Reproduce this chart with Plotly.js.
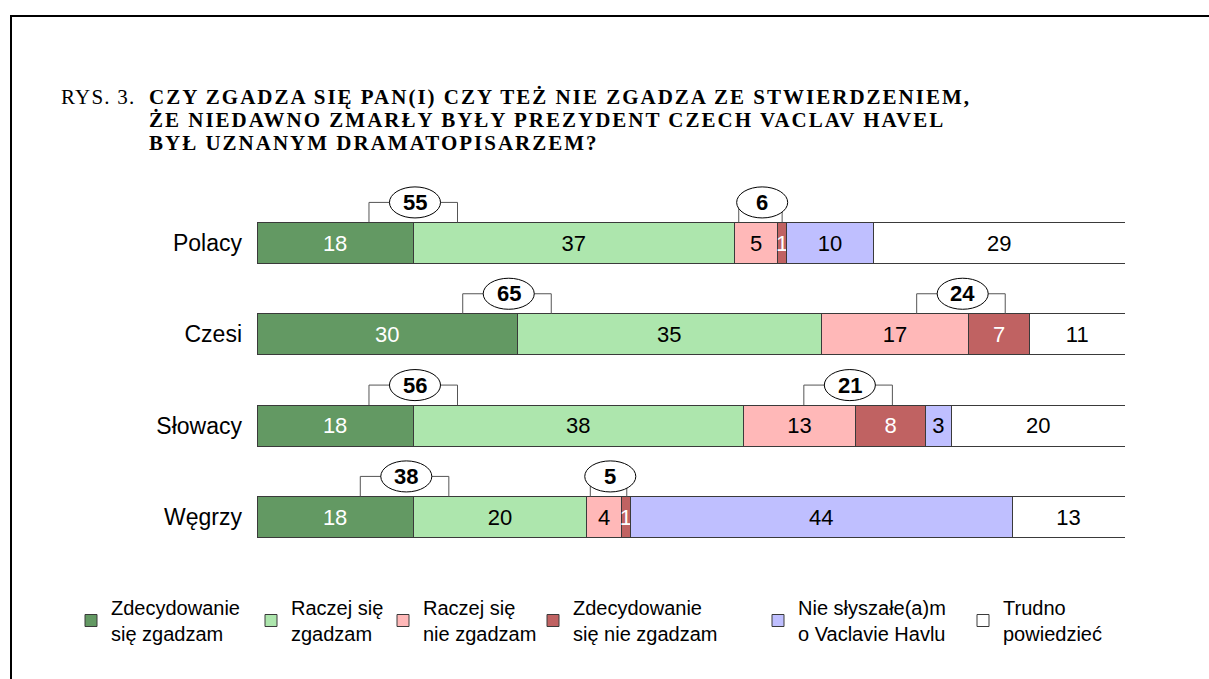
<!DOCTYPE html>
<html>
<head>
<meta charset="utf-8">
<script src="https://cdn.plot.ly/plotly-3.0.1.min.js"></script>
<style>html,body{margin:0;padding:0;background:#fff;}#chart{width:1209px;height:679px;}</style>
</head>
<body>
<div id="chart"></div>
<script>
// ---- data ----
const categories = ["Polacy", "Czesi", "Słowacy", "Węgrzy"];
const seriesNames = [
  "Zdecydowanie<br>się zgadzam",
  "Raczej się<br>zgadzam",
  "Raczej się<br>nie zgadzam",
  "Zdecydowanie<br>się nie zgadzam",
  "Nie słyszałe(a)m<br>o Vaclavie Havlu",
  "Trudno<br>powiedzieć"
];
const zdecydowanieZgadzam   = [18, 30, 18, 18];
const raczejZgadzam         = [37, 35, 38, 20];
const raczejNieZgadzam      = [5, 17, 13, 4];
const zdecydowanieNieZgadzam= [1, 7, 8, 1];
const nieSlyszal            = [10, 0, 3, 44];
const trudnoPowiedziec      = [29, 11, 20, 13];
const titleLines = [
  "CZY ZGADZA SIĘ PAN(I) CZY TEŻ NIE ZGADZA ZE STWIERDZENIEM,",
  "ŻE NIEDAWNO ZMARŁY BYŁY PREZYDENT CZECH VACLAV HAVEL",
  "BYŁ UZNANYM DRAMATOPISARZEM?"
];
const figLabel = "RYS. 3.";
const unitLabel = "(%)";

// ---- styles / placement ----
const series = [zdecydowanieZgadzam, raczejZgadzam, raczejNieZgadzam, zdecydowanieNieZgadzam, nieSlyszal, trudnoPowiedziec];
const colors = ["#639963", "#ade6ad", "#ffb8b8", "#c06262", "#bfbfff", "#ffffff"];
const textColors = ["#ffffff", "#000000", "#000000", "#ffffff", "#000000", "#000000"];
const SANS = "Liberation Sans, Arial, sans-serif";
const SERIF = "Liberation Serif, Times New Roman, serif";

const W = 1209, H = 679;
const M = {l: 257, r: 84, t: 170, b: 98};
const PW = W - M.l - M.r, PH = H - M.t - M.b;
const px = p => (p - M.l) / PW;
const py = p => (H - M.b - p) / PH;

// legend left positions (pixels)
const legendX = [71, 251, 383, 533, 758, 963];

const traces = series.map((vals, k) => ({
  type: "bar",
  orientation: "h",
  name: seriesNames[k],
  y: categories,
  x: vals,
  text: vals.map(v => v ? String(v) : ""),
  textposition: "inside",
  insidetextanchor: "middle",
  constraintext: "none",
  textangle: 0,
  textfont: {family: SANS, size: 22, color: textColors[k]},
  marker: {color: colors[k], line: {color: "#3a3a3a", width: 1}},
  hoverinfo: "skip",
  legend: k === 0 ? "legend" : "legend" + (k + 1),
  showlegend: true
}));

// brackets: placement per category (center %, half-width %)
const bracketPlacement = [
  [{c: 18.0, hw: 5.1}, {c: 58.0, hw: 2.5}],
  [{c: 28.8, hw: 5.1}, {c: 81.1, hw: 5.1}],
  [{c: 18.0, hw: 5.1}, {c: 68.1, hw: 5.1}],
  [{c: 17.0, hw: 5.1}, {c: 40.5, hw: 2.1}]
];
const shapes = [];
const annotations = [];
const halfBar = 0.225, lineOff = 0.445, ellW = 2.94, ellH = 0.17;
categories.forEach((cat, i) => {
  const sums = [
    zdecydowanieZgadzam[i] + raczejZgadzam[i],
    raczejNieZgadzam[i] + zdecydowanieNieZgadzam[i]
  ];
  bracketPlacement[i].forEach((b, j) => {
    const yTop = i - halfBar, yLine = i - lineOff;
    const ln = {color: "#555555", width: 1};
    shapes.push({type: "line", xref: "x", yref: "y", x0: b.c - b.hw, x1: b.c - b.hw, y0: yTop, y1: yLine, line: ln, layer: "above"});
    shapes.push({type: "line", xref: "x", yref: "y", x0: b.c - b.hw, x1: b.c + b.hw, y0: yLine, y1: yLine, line: ln, layer: "above"});
    shapes.push({type: "line", xref: "x", yref: "y", x0: b.c + b.hw, x1: b.c + b.hw, y0: yTop, y1: yLine, line: ln, layer: "above"});
    shapes.push({type: "circle", xref: "x", yref: "y", x0: b.c - ellW + 0.2, x1: b.c + ellW + 0.2, y0: yLine - ellH, y1: yLine + ellH,
      fillcolor: "#ffffff", line: {color: "#000000", width: 1}, layer: "above"});
    annotations.push({xref: "x", yref: "y", x: b.c + 0.2, y: yLine, text: "<b>" + sums[j] + "</b>", showarrow: false,
      font: {family: SANS, size: 22, color: "#000"}, xanchor: "center", yanchor: "middle"});
  });
});

// frame
shapes.push({type: "rect", xref: "paper", yref: "paper", x0: px(11), x1: px(1260), y0: py(16), y1: py(720),
  line: {color: "#000000", width: 2}, fillcolor: "rgba(0,0,0,0)", layer: "above"});

// titles
annotations.push({xref: "paper", yref: "paper", x: px(59), y: py(97), xanchor: "left", yanchor: "middle", showarrow: false,
  text: '<span style="letter-spacing:1.2px">' + figLabel + '</span>', font: {family: SERIF, size: 21, color: "#000"}});
titleLines.forEach((t, k) => {
  annotations.push({xref: "paper", yref: "paper", x: px(147), y: py(97 + 23 * k), xanchor: "left", yanchor: "middle", showarrow: false,
    text: '<span style="letter-spacing:2px"><b>' + t + '</b></span>', font: {family: SERIF, size: 21, color: "#000"}});
});
annotations.push({xref: "x", yref: "y", x: 100.2, y: -0.46, xanchor: "right", yanchor: "middle", showarrow: false,
  text: unitLabel, font: {family: SANS, size: 22, color: "#000"}});

const layout = {
  width: W, height: H, autosize: false,
  margin: {l: M.l, r: M.r, t: M.t, b: M.b, pad: 0},
  paper_bgcolor: "#ffffff", plot_bgcolor: "#ffffff",
  barmode: "stack", bargap: 0.55,
  showlegend: true,
  xaxis: {range: [0, 100], visible: false, fixedrange: true},
  yaxis: {type: "category", categoryorder: "array", categoryarray: categories, range: [3.7, -0.8],
    showgrid: false, zeroline: false, showline: false, ticks: "", ticklabelstandoff: 14,
    tickfont: {family: SANS, size: 23, color: "#000"}, fixedrange: true},
  shapes: shapes,
  annotations: annotations,
  font: {family: SANS, color: "#000"}
};
legendX.forEach((lx, k) => {
  const key = k === 0 ? "legend" : "legend" + (k + 1);
  layout[key] = {x: px(lx), y: py(588), xanchor: "left", yanchor: "top", orientation: "v",
    bgcolor: "rgba(0,0,0,0)", borderwidth: 0, font: {family: SANS, size: 20, color: "#000"}};
});

Plotly.newPlot("chart", traces, layout, {staticPlot: true, displayModeBar: false});
</script>
</body>
</html>
